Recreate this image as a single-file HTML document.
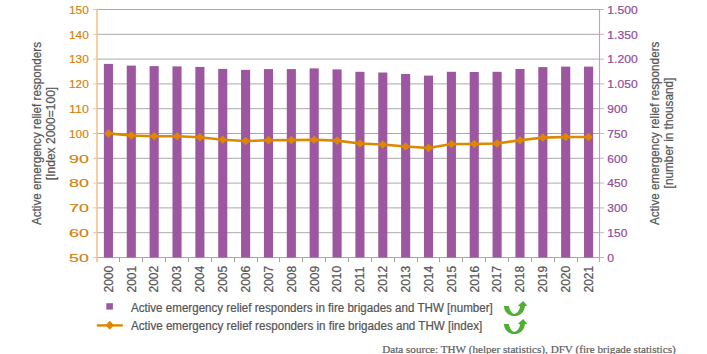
<!DOCTYPE html><html><head><meta charset="utf-8"><style>html,body{margin:0;padding:0;background:#fff;width:707px;height:354px;overflow:hidden}svg{display:block}</style></head><body>
<svg width="707" height="354" viewBox="0 0 707 354" font-family="Liberation Sans, sans-serif">
<line x1="97.0" x2="600.0" y1="9.50" y2="9.50" stroke="#a9a9a9" stroke-width="1"/>
<line x1="97.0" x2="600.0" y1="34.30" y2="34.30" stroke="#a9a9a9" stroke-width="1"/>
<line x1="97.0" x2="600.0" y1="59.10" y2="59.10" stroke="#a9a9a9" stroke-width="1"/>
<line x1="97.0" x2="600.0" y1="83.90" y2="83.90" stroke="#a9a9a9" stroke-width="1"/>
<line x1="97.0" x2="600.0" y1="108.70" y2="108.70" stroke="#a9a9a9" stroke-width="1"/>
<line x1="97.0" x2="600.0" y1="133.50" y2="133.50" stroke="#a9a9a9" stroke-width="1"/>
<line x1="97.0" x2="600.0" y1="158.30" y2="158.30" stroke="#a9a9a9" stroke-width="1"/>
<line x1="97.0" x2="600.0" y1="183.10" y2="183.10" stroke="#a9a9a9" stroke-width="1"/>
<line x1="97.0" x2="600.0" y1="207.90" y2="207.90" stroke="#a9a9a9" stroke-width="1"/>
<line x1="97.0" x2="600.0" y1="232.70" y2="232.70" stroke="#a9a9a9" stroke-width="1"/>
<line x1="97.0" x2="600.0" y1="257.50" y2="257.50" stroke="#a9a9a9" stroke-width="1"/>
<rect x="103.88" y="63.90" width="9.1" height="193.60" fill="#9d57a0"/>
<rect x="126.75" y="65.60" width="9.1" height="191.90" fill="#9d57a0"/>
<rect x="149.61" y="66.10" width="9.1" height="191.40" fill="#9d57a0"/>
<rect x="172.47" y="66.40" width="9.1" height="191.10" fill="#9d57a0"/>
<rect x="195.34" y="66.90" width="9.1" height="190.60" fill="#9d57a0"/>
<rect x="218.20" y="68.90" width="9.1" height="188.60" fill="#9d57a0"/>
<rect x="241.06" y="69.85" width="9.1" height="187.65" fill="#9d57a0"/>
<rect x="263.93" y="69.10" width="9.1" height="188.40" fill="#9d57a0"/>
<rect x="286.79" y="69.10" width="9.1" height="188.40" fill="#9d57a0"/>
<rect x="309.65" y="68.40" width="9.1" height="189.10" fill="#9d57a0"/>
<rect x="332.52" y="69.40" width="9.1" height="188.10" fill="#9d57a0"/>
<rect x="355.38" y="71.80" width="9.1" height="185.70" fill="#9d57a0"/>
<rect x="378.25" y="72.50" width="9.1" height="185.00" fill="#9d57a0"/>
<rect x="401.11" y="74.00" width="9.1" height="183.50" fill="#9d57a0"/>
<rect x="423.97" y="75.60" width="9.1" height="181.90" fill="#9d57a0"/>
<rect x="446.84" y="71.80" width="9.1" height="185.70" fill="#9d57a0"/>
<rect x="469.70" y="72.00" width="9.1" height="185.50" fill="#9d57a0"/>
<rect x="492.56" y="71.80" width="9.1" height="185.70" fill="#9d57a0"/>
<rect x="515.43" y="69.00" width="9.1" height="188.50" fill="#9d57a0"/>
<rect x="538.29" y="67.10" width="9.1" height="190.40" fill="#9d57a0"/>
<rect x="561.15" y="66.60" width="9.1" height="190.90" fill="#9d57a0"/>
<rect x="584.02" y="66.60" width="9.1" height="190.90" fill="#9d57a0"/>
<line x1="119.50" x2="119.50" y1="257.5" y2="262.0" stroke="#a0a0a0" stroke-width="1"/>
<line x1="142.50" x2="142.50" y1="257.5" y2="262.0" stroke="#a0a0a0" stroke-width="1"/>
<line x1="165.50" x2="165.50" y1="257.5" y2="262.0" stroke="#a0a0a0" stroke-width="1"/>
<line x1="188.50" x2="188.50" y1="257.5" y2="262.0" stroke="#a0a0a0" stroke-width="1"/>
<line x1="211.50" x2="211.50" y1="257.5" y2="262.0" stroke="#a0a0a0" stroke-width="1"/>
<line x1="234.50" x2="234.50" y1="257.5" y2="262.0" stroke="#a0a0a0" stroke-width="1"/>
<line x1="257.50" x2="257.50" y1="257.5" y2="262.0" stroke="#a0a0a0" stroke-width="1"/>
<line x1="279.50" x2="279.50" y1="257.5" y2="262.0" stroke="#a0a0a0" stroke-width="1"/>
<line x1="302.50" x2="302.50" y1="257.5" y2="262.0" stroke="#a0a0a0" stroke-width="1"/>
<line x1="325.50" x2="325.50" y1="257.5" y2="262.0" stroke="#a0a0a0" stroke-width="1"/>
<line x1="348.50" x2="348.50" y1="257.5" y2="262.0" stroke="#a0a0a0" stroke-width="1"/>
<line x1="371.50" x2="371.50" y1="257.5" y2="262.0" stroke="#a0a0a0" stroke-width="1"/>
<line x1="394.50" x2="394.50" y1="257.5" y2="262.0" stroke="#a0a0a0" stroke-width="1"/>
<line x1="417.50" x2="417.50" y1="257.5" y2="262.0" stroke="#a0a0a0" stroke-width="1"/>
<line x1="439.50" x2="439.50" y1="257.5" y2="262.0" stroke="#a0a0a0" stroke-width="1"/>
<line x1="462.50" x2="462.50" y1="257.5" y2="262.0" stroke="#a0a0a0" stroke-width="1"/>
<line x1="485.50" x2="485.50" y1="257.5" y2="262.0" stroke="#a0a0a0" stroke-width="1"/>
<line x1="508.50" x2="508.50" y1="257.5" y2="262.0" stroke="#a0a0a0" stroke-width="1"/>
<line x1="531.50" x2="531.50" y1="257.5" y2="262.0" stroke="#a0a0a0" stroke-width="1"/>
<line x1="554.50" x2="554.50" y1="257.5" y2="262.0" stroke="#a0a0a0" stroke-width="1"/>
<line x1="577.50" x2="577.50" y1="257.5" y2="262.0" stroke="#a0a0a0" stroke-width="1"/>
<line x1="97.0" x2="97.0" y1="9.0" y2="262.0" stroke="#f2c48c" stroke-width="1.6"/>
<line x1="93.0" x2="97.0" y1="9.50" y2="9.50" stroke="#f2c48c" stroke-width="1"/>
<text x="88.8" y="13.70" text-anchor="end" textLength="19.8" lengthAdjust="spacingAndGlyphs" font-size="10.8" fill="#d3800a" stroke="#d3800a" stroke-width="0.15">150</text>
<line x1="93.0" x2="97.0" y1="34.30" y2="34.30" stroke="#f2c48c" stroke-width="1"/>
<text x="88.8" y="38.50" text-anchor="end" textLength="19.8" lengthAdjust="spacingAndGlyphs" font-size="10.8" fill="#d3800a" stroke="#d3800a" stroke-width="0.15">140</text>
<line x1="93.0" x2="97.0" y1="59.10" y2="59.10" stroke="#f2c48c" stroke-width="1"/>
<text x="88.8" y="63.30" text-anchor="end" textLength="19.8" lengthAdjust="spacingAndGlyphs" font-size="10.8" fill="#d3800a" stroke="#d3800a" stroke-width="0.15">130</text>
<line x1="93.0" x2="97.0" y1="83.90" y2="83.90" stroke="#f2c48c" stroke-width="1"/>
<text x="88.8" y="88.10" text-anchor="end" textLength="19.8" lengthAdjust="spacingAndGlyphs" font-size="10.8" fill="#d3800a" stroke="#d3800a" stroke-width="0.15">120</text>
<line x1="93.0" x2="97.0" y1="108.70" y2="108.70" stroke="#f2c48c" stroke-width="1"/>
<text x="88.8" y="112.90" text-anchor="end" textLength="19.8" lengthAdjust="spacingAndGlyphs" font-size="10.8" fill="#d3800a" stroke="#d3800a" stroke-width="0.15">110</text>
<line x1="93.0" x2="97.0" y1="133.50" y2="133.50" stroke="#f2c48c" stroke-width="1"/>
<text x="88.8" y="137.70" text-anchor="end" textLength="19.8" lengthAdjust="spacingAndGlyphs" font-size="10.8" fill="#d3800a" stroke="#d3800a" stroke-width="0.15">100</text>
<line x1="93.0" x2="97.0" y1="158.30" y2="158.30" stroke="#f2c48c" stroke-width="1"/>
<text x="88.8" y="162.50" text-anchor="end" textLength="19.8" lengthAdjust="spacingAndGlyphs" font-size="10.8" fill="#d3800a" stroke="#d3800a" stroke-width="0.15">90</text>
<line x1="93.0" x2="97.0" y1="183.10" y2="183.10" stroke="#f2c48c" stroke-width="1"/>
<text x="88.8" y="187.30" text-anchor="end" textLength="19.8" lengthAdjust="spacingAndGlyphs" font-size="10.8" fill="#d3800a" stroke="#d3800a" stroke-width="0.15">80</text>
<line x1="93.0" x2="97.0" y1="207.90" y2="207.90" stroke="#f2c48c" stroke-width="1"/>
<text x="88.8" y="212.10" text-anchor="end" textLength="19.8" lengthAdjust="spacingAndGlyphs" font-size="10.8" fill="#d3800a" stroke="#d3800a" stroke-width="0.15">70</text>
<line x1="93.0" x2="97.0" y1="232.70" y2="232.70" stroke="#f2c48c" stroke-width="1"/>
<text x="88.8" y="236.90" text-anchor="end" textLength="19.8" lengthAdjust="spacingAndGlyphs" font-size="10.8" fill="#d3800a" stroke="#d3800a" stroke-width="0.15">60</text>
<line x1="93.0" x2="97.0" y1="257.50" y2="257.50" stroke="#f2c48c" stroke-width="1"/>
<text x="88.8" y="261.70" text-anchor="end" textLength="19.8" lengthAdjust="spacingAndGlyphs" font-size="10.8" fill="#d3800a" stroke="#d3800a" stroke-width="0.15">50</text>
<line x1="599.5" x2="599.5" y1="9.0" y2="262.0" stroke="#c99ccc" stroke-width="1.1"/>
<line x1="600.0" x2="604.0" y1="9.50" y2="9.50" stroke="#d3a9d6" stroke-width="1"/>
<text x="607.3" y="13.70" textLength="30.4" lengthAdjust="spacingAndGlyphs" font-size="10.8" fill="#944b98" stroke="#944b98" stroke-width="0.2">1.500</text>
<line x1="600.0" x2="604.0" y1="34.30" y2="34.30" stroke="#d3a9d6" stroke-width="1"/>
<text x="607.3" y="38.50" textLength="30.4" lengthAdjust="spacingAndGlyphs" font-size="10.8" fill="#944b98" stroke="#944b98" stroke-width="0.2">1.350</text>
<line x1="600.0" x2="604.0" y1="59.10" y2="59.10" stroke="#d3a9d6" stroke-width="1"/>
<text x="607.3" y="63.30" textLength="30.4" lengthAdjust="spacingAndGlyphs" font-size="10.8" fill="#944b98" stroke="#944b98" stroke-width="0.2">1.200</text>
<line x1="600.0" x2="604.0" y1="83.90" y2="83.90" stroke="#d3a9d6" stroke-width="1"/>
<text x="607.3" y="88.10" textLength="30.4" lengthAdjust="spacingAndGlyphs" font-size="10.8" fill="#944b98" stroke="#944b98" stroke-width="0.2">1.050</text>
<line x1="600.0" x2="604.0" y1="108.70" y2="108.70" stroke="#d3a9d6" stroke-width="1"/>
<text x="607.3" y="112.90" textLength="20.0" lengthAdjust="spacingAndGlyphs" font-size="10.8" fill="#944b98" stroke="#944b98" stroke-width="0.2">900</text>
<line x1="600.0" x2="604.0" y1="133.50" y2="133.50" stroke="#d3a9d6" stroke-width="1"/>
<text x="607.3" y="137.70" textLength="20.0" lengthAdjust="spacingAndGlyphs" font-size="10.8" fill="#944b98" stroke="#944b98" stroke-width="0.2">750</text>
<line x1="600.0" x2="604.0" y1="158.30" y2="158.30" stroke="#d3a9d6" stroke-width="1"/>
<text x="607.3" y="162.50" textLength="20.0" lengthAdjust="spacingAndGlyphs" font-size="10.8" fill="#944b98" stroke="#944b98" stroke-width="0.2">600</text>
<line x1="600.0" x2="604.0" y1="183.10" y2="183.10" stroke="#d3a9d6" stroke-width="1"/>
<text x="607.3" y="187.30" textLength="20.0" lengthAdjust="spacingAndGlyphs" font-size="10.8" fill="#944b98" stroke="#944b98" stroke-width="0.2">450</text>
<line x1="600.0" x2="604.0" y1="207.90" y2="207.90" stroke="#d3a9d6" stroke-width="1"/>
<text x="607.3" y="212.10" textLength="20.0" lengthAdjust="spacingAndGlyphs" font-size="10.8" fill="#944b98" stroke="#944b98" stroke-width="0.2">300</text>
<line x1="600.0" x2="604.0" y1="232.70" y2="232.70" stroke="#d3a9d6" stroke-width="1"/>
<text x="607.3" y="236.90" textLength="20.0" lengthAdjust="spacingAndGlyphs" font-size="10.8" fill="#944b98" stroke="#944b98" stroke-width="0.2">150</text>
<line x1="600.0" x2="604.0" y1="257.50" y2="257.50" stroke="#d3a9d6" stroke-width="1"/>
<text x="607.3" y="261.70" textLength="6.8" lengthAdjust="spacingAndGlyphs" font-size="10.8" fill="#944b98" stroke="#944b98" stroke-width="0.2">0</text>
<polyline points="108.43,133.40 131.30,135.50 154.16,136.30 177.02,136.30 199.89,137.30 222.75,139.80 245.61,141.00 268.48,140.30 291.34,140.10 314.20,139.80 337.07,140.60 359.93,143.50 382.80,144.55 405.66,146.50 428.52,148.00 451.39,144.05 474.25,144.05 497.11,143.50 519.98,140.20 542.84,137.60 565.70,137.00 588.57,137.00" fill="none" stroke="#dc8800" stroke-width="2.6" stroke-linejoin="round"/>
<polygon points="108.43,129.10 112.73,133.40 108.43,137.70 104.13,133.40" fill="#dc8800"/>
<polygon points="131.30,131.20 135.60,135.50 131.30,139.80 127.00,135.50" fill="#dc8800"/>
<polygon points="154.16,132.00 158.46,136.30 154.16,140.60 149.86,136.30" fill="#dc8800"/>
<polygon points="177.02,132.00 181.32,136.30 177.02,140.60 172.72,136.30" fill="#dc8800"/>
<polygon points="199.89,133.00 204.19,137.30 199.89,141.60 195.59,137.30" fill="#dc8800"/>
<polygon points="222.75,135.50 227.05,139.80 222.75,144.10 218.45,139.80" fill="#dc8800"/>
<polygon points="245.61,136.70 249.91,141.00 245.61,145.30 241.31,141.00" fill="#dc8800"/>
<polygon points="268.48,136.00 272.78,140.30 268.48,144.60 264.18,140.30" fill="#dc8800"/>
<polygon points="291.34,135.80 295.64,140.10 291.34,144.40 287.04,140.10" fill="#dc8800"/>
<polygon points="314.20,135.50 318.50,139.80 314.20,144.10 309.90,139.80" fill="#dc8800"/>
<polygon points="337.07,136.30 341.37,140.60 337.07,144.90 332.77,140.60" fill="#dc8800"/>
<polygon points="359.93,139.20 364.23,143.50 359.93,147.80 355.63,143.50" fill="#dc8800"/>
<polygon points="382.80,140.25 387.10,144.55 382.80,148.85 378.50,144.55" fill="#dc8800"/>
<polygon points="405.66,142.20 409.96,146.50 405.66,150.80 401.36,146.50" fill="#dc8800"/>
<polygon points="428.52,143.70 432.82,148.00 428.52,152.30 424.22,148.00" fill="#dc8800"/>
<polygon points="451.39,139.75 455.69,144.05 451.39,148.35 447.09,144.05" fill="#dc8800"/>
<polygon points="474.25,139.75 478.55,144.05 474.25,148.35 469.95,144.05" fill="#dc8800"/>
<polygon points="497.11,139.20 501.41,143.50 497.11,147.80 492.81,143.50" fill="#dc8800"/>
<polygon points="519.98,135.90 524.28,140.20 519.98,144.50 515.68,140.20" fill="#dc8800"/>
<polygon points="542.84,133.30 547.14,137.60 542.84,141.90 538.54,137.60" fill="#dc8800"/>
<polygon points="565.70,132.70 570.00,137.00 565.70,141.30 561.40,137.00" fill="#dc8800"/>
<polygon points="588.57,132.70 592.87,137.00 588.57,141.30 584.27,137.00" fill="#dc8800"/>
<text transform="translate(112.73,292.5) rotate(-90)" font-size="12" fill="#555555" stroke="#555555" stroke-width="0.22">2000</text>
<text transform="translate(135.60,292.5) rotate(-90)" font-size="12" fill="#555555" stroke="#555555" stroke-width="0.22">2001</text>
<text transform="translate(158.46,292.5) rotate(-90)" font-size="12" fill="#555555" stroke="#555555" stroke-width="0.22">2002</text>
<text transform="translate(181.32,292.5) rotate(-90)" font-size="12" fill="#555555" stroke="#555555" stroke-width="0.22">2003</text>
<text transform="translate(204.19,292.5) rotate(-90)" font-size="12" fill="#555555" stroke="#555555" stroke-width="0.22">2004</text>
<text transform="translate(227.05,292.5) rotate(-90)" font-size="12" fill="#555555" stroke="#555555" stroke-width="0.22">2005</text>
<text transform="translate(249.91,292.5) rotate(-90)" font-size="12" fill="#555555" stroke="#555555" stroke-width="0.22">2006</text>
<text transform="translate(272.78,292.5) rotate(-90)" font-size="12" fill="#555555" stroke="#555555" stroke-width="0.22">2007</text>
<text transform="translate(295.64,292.5) rotate(-90)" font-size="12" fill="#555555" stroke="#555555" stroke-width="0.22">2008</text>
<text transform="translate(318.50,292.5) rotate(-90)" font-size="12" fill="#555555" stroke="#555555" stroke-width="0.22">2009</text>
<text transform="translate(341.37,292.5) rotate(-90)" font-size="12" fill="#555555" stroke="#555555" stroke-width="0.22">2010</text>
<text transform="translate(364.23,292.5) rotate(-90)" font-size="12" fill="#555555" stroke="#555555" stroke-width="0.22">2011</text>
<text transform="translate(387.10,292.5) rotate(-90)" font-size="12" fill="#555555" stroke="#555555" stroke-width="0.22">2012</text>
<text transform="translate(409.96,292.5) rotate(-90)" font-size="12" fill="#555555" stroke="#555555" stroke-width="0.22">2013</text>
<text transform="translate(432.82,292.5) rotate(-90)" font-size="12" fill="#555555" stroke="#555555" stroke-width="0.22">2014</text>
<text transform="translate(455.69,292.5) rotate(-90)" font-size="12" fill="#555555" stroke="#555555" stroke-width="0.22">2015</text>
<text transform="translate(478.55,292.5) rotate(-90)" font-size="12" fill="#555555" stroke="#555555" stroke-width="0.22">2016</text>
<text transform="translate(501.41,292.5) rotate(-90)" font-size="12" fill="#555555" stroke="#555555" stroke-width="0.22">2017</text>
<text transform="translate(524.28,292.5) rotate(-90)" font-size="12" fill="#555555" stroke="#555555" stroke-width="0.22">2018</text>
<text transform="translate(547.14,292.5) rotate(-90)" font-size="12" fill="#555555" stroke="#555555" stroke-width="0.22">2019</text>
<text transform="translate(570.00,292.5) rotate(-90)" font-size="12" fill="#555555" stroke="#555555" stroke-width="0.22">2020</text>
<text transform="translate(592.87,292.5) rotate(-90)" font-size="12" fill="#555555" stroke="#555555" stroke-width="0.22">2021</text>
<text transform="translate(41.2,133.50) rotate(-90)" text-anchor="middle" textLength="183.0" lengthAdjust="spacingAndGlyphs" font-size="12" fill="#555555" stroke="#555555" stroke-width="0.22">Active emergency relief responders</text>
<text transform="translate(55.2,133.50) rotate(-90)" text-anchor="middle" textLength="93.4" lengthAdjust="spacingAndGlyphs" font-size="12" fill="#555555" stroke="#555555" stroke-width="0.22">[Index 2000=100]</text>
<text transform="translate(658.7,133.35) rotate(-90)" text-anchor="middle" textLength="183.5" lengthAdjust="spacingAndGlyphs" font-size="12" fill="#555555" stroke="#555555" stroke-width="0.22">Active emergency relief responders</text>
<text transform="translate(672.7,133.00) rotate(-90)" text-anchor="middle" textLength="110.8" lengthAdjust="spacingAndGlyphs" font-size="12" fill="#555555" stroke="#555555" stroke-width="0.22">[number in thousand]</text>
<rect x="106.3" y="303.2" width="6.6" height="6.4" fill="#9d57a0"/>
<text x="131" y="312" textLength="361.8" lengthAdjust="spacingAndGlyphs" font-size="12" fill="#555555" stroke="#555555" stroke-width="0.22">Active emergency relief responders in fire brigades and THW [number]</text>
<line x1="96.8" x2="122.8" y1="325.4" y2="325.4" stroke="#dc8800" stroke-width="2.4"/>
<polygon points="109.8,320.8 114,325.3 109.8,329.8 105.6,325.3" fill="#dc8800"/>
<text x="131" y="330" textLength="351.3" lengthAdjust="spacingAndGlyphs" font-size="12" fill="#555555" stroke="#555555" stroke-width="0.22">Active emergency relief responders in fire brigades and THW [index]</text>
<path transform="translate(504,301)" d="M0,4.9 L4.9,4.9 C5.5,9 8,12.7 10.6,12.7 C13.5,12.7 15.5,9 16.2,5.6 L14,4.7 L19.1,0 L23.4,4.7 L20.9,4.9 C20.5,10 17,15 10.3,15 C4,15 0,10 0,4.9 Z" fill="#4fae34"/>
<path transform="translate(504,319)" d="M0,4.9 L4.9,4.9 C5.5,9 8,12.7 10.6,12.7 C13.5,12.7 15.5,9 16.2,5.6 L14,4.7 L19.1,0 L23.4,4.7 L20.9,4.9 C20.5,10 17,15 10.3,15 C4,15 0,10 0,4.9 Z" fill="#4fae34"/>
<text x="382.2" y="352.7" textLength="293.5" lengthAdjust="spacingAndGlyphs" font-family="Liberation Serif, serif" font-size="11.3" fill="#5c5c5c" stroke="#5c5c5c" stroke-width="0.2">Data source: THW (helper statistics), DFV (fire brigade statistics)</text>
</svg></body></html>
